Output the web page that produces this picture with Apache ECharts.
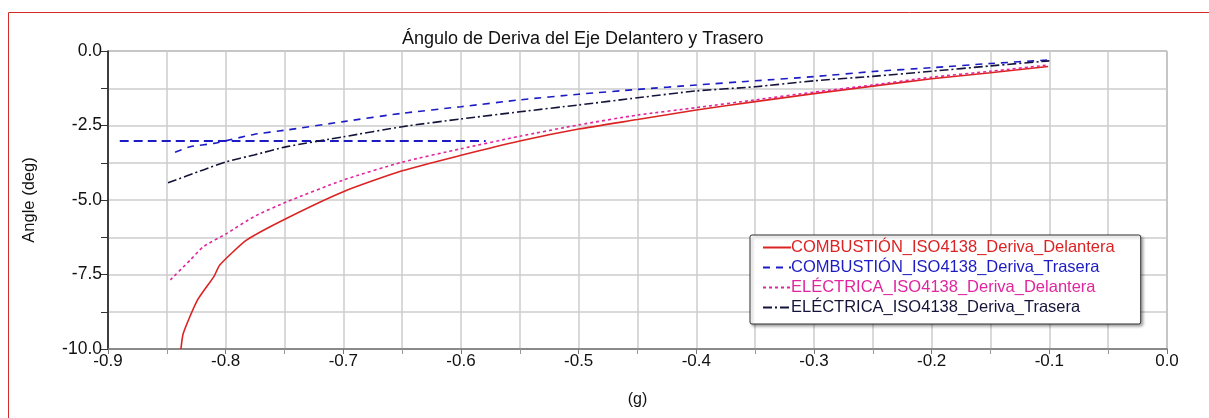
<!DOCTYPE html>
<html>
<head>
<meta charset="utf-8">
<script src="https://cdn.jsdelivr.net/npm/echarts@6/dist/echarts.min.js"></script>
<style>
  html, body { margin: 0; padding: 0; background: #fff; }
  #main { width: 1209px; height: 418px; }
</style>
</head>
<body>
<div id="main"></div>
<script>
// values: x in g, y in degrees
const xTicks = ['-0.9', '-0.8', '-0.7', '-0.6', '-0.5', '-0.4', '-0.3', '-0.2', '-0.1', '0.0'];
const yTicks = ['-10.0', '-7.5', '-5.0', '-2.5', '0.0'];

const combDelX = [-0.838, -0.836, -0.824, -0.810, -0.805, -0.782, -0.748, -0.700, -0.650, -0.600, -0.550, -0.500, -0.450, -0.400, -0.350, -0.300, -0.250, -0.200, -0.150, -0.101];
const combDelY = [-10.0, -9.47, -8.36, -7.57, -7.18, -6.34, -5.61, -4.72, -4.02, -3.50, -3.02, -2.62, -2.30, -1.98, -1.70, -1.43, -1.18, -0.93, -0.73, -0.52];

const combTraX = [-0.843, -0.830, -0.810, -0.776, -0.748, -0.700, -0.650, -0.600, -0.550, -0.500, -0.450, -0.400, -0.350, -0.300, -0.250, -0.200, -0.150, -0.100];
const combTraY = [-3.40, -3.21, -3.10, -2.80, -2.65, -2.37, -2.09, -1.87, -1.64, -1.45, -1.29, -1.14, -1.00, -0.86, -0.69, -0.56, -0.42, -0.30];
// flat stretch of the same run
const combTraFlatX = [-0.890, -0.800, -0.700, -0.579];
const combTraFlatY = [-3.02, -3.02, -3.02, -3.02];

const elecDelX = [-0.847, -0.830, -0.819, -0.799, -0.776, -0.748, -0.700, -0.650, -0.600, -0.550, -0.500, -0.450, -0.400, -0.350, -0.300, -0.250, -0.200, -0.150, -0.101];
const elecDelY = [-7.68, -7.01, -6.57, -6.12, -5.56, -5.06, -4.33, -3.73, -3.28, -2.86, -2.48, -2.15, -1.90, -1.64, -1.38, -1.14, -0.88, -0.68, -0.47];

const elecTraX = [-0.849, -0.819, -0.799, -0.776, -0.748, -0.700, -0.650, -0.600, -0.550, -0.500, -0.450, -0.400, -0.350, -0.300, -0.250, -0.200, -0.150, -0.100];
const elecTraY = [-4.42, -3.99, -3.71, -3.49, -3.21, -2.88, -2.54, -2.28, -2.04, -1.81, -1.57, -1.34, -1.20, -1.00, -0.85, -0.68, -0.50, -0.33];

const names = [
  'COMBUSTIÓN_ISO4138_Deriva_Delantera',
  'COMBUSTIÓN_ISO4138_Deriva_Trasera',
  'ELÉCTRICA_ISO4138_Deriva_Delantera',
  'ELÉCTRICA_ISO4138_Deriva_Trasera'
];
const colors = ['#dc2323', '#1c1cc4', '#e0259e', '#14143a'];

function pairs(xs, ys) {
  return xs.map((x, i) => [x, ys[i]]);
}

const font = 'Liberation Sans, Arial, sans-serif';

function lineSeries(name, data, color, type, width) {
  return {
    name: name,
    type: 'line',
    data: data,
    symbol: 'none',
    smooth: 0.2,
    clip: true,
    color: color,
    lineStyle: { color: color, width: width, type: type },
    emphasis: { disabled: true }
  };
}

var myChart = echarts.init(document.getElementById('main'));
myChart.setOption({
  animation: false,
  backgroundColor: '#ffffff',
  title: {
    text: 'Ángulo de Deriva del Eje Delantero y Trasero',
    left: 397,
    top: 25,
    textStyle: { fontFamily: font, fontSize: 18, fontWeight: 'normal', color: '#111' }
  },
  graphic: [{
    type: 'rect',
    shape: { x: 8.5, y: 12.5, width: 1300, height: 600 },
    style: { fill: 'none', stroke: '#d32a2a', lineWidth: 1 },
    silent: true
  }],
  legend: {
    orient: 'vertical',
    left: 750,
    top: 235,
    padding: [4, 26, 8, 12],
    itemGap: 3,
    itemWidth: 28,
    itemHeight: 17,
    backgroundColor: '#ffffff',
    borderColor: '#333',
    borderWidth: 1,
    borderRadius: 2,
    shadowColor: 'rgba(0,0,0,0.35)',
    shadowBlur: 3,
    shadowOffsetX: 2,
    shadowOffsetY: 2,
    selectedMode: false,
    itemStyle: { opacity: 0 },
    textStyle: { fontFamily: font, fontSize: 16.5, padding: [0, 0, 0, -5] },
    data: names.map((n, i) => ({ name: n, textStyle: { color: colors[i] } }))
  },
  grid: {
    left: 108,
    right: 42,
    top: 51,
    bottom: 69,
    show: true,
    borderColor: '#666',
    borderWidth: 1
  },
  xAxis: {
    type: 'value',
    min: -0.9,
    max: 0,
    interval: 0.1,
    name: '(g)',
    nameLocation: 'middle',
    nameGap: 43,
    nameTextStyle: { fontFamily: font, fontSize: 16, color: '#111' },
    axisLine: { onZero: false, lineStyle: { color: '#777', width: 1.5 } },
    axisTick: { show: true, length: 5, lineStyle: { color: '#777' } },
    minorTick: { show: true, splitNumber: 2, length: 5, lineStyle: { color: '#999' } },
    splitLine: { show: true, lineStyle: { color: '#cdcdcd', width: 1.5 } },
    minorSplitLine: { show: true, lineStyle: { color: '#cdcdcd', width: 1.5 } },
    axisLabel: {
      fontFamily: font, fontSize: 17, color: '#111', margin: 4,
      formatter: v => xTicks.find(t => Math.abs(parseFloat(t) - v) < 1e-6) || ''
    }
  },
  yAxis: {
    type: 'value',
    min: -10,
    max: 0,
    interval: 2.5,
    name: 'Angle (deg)',
    nameLocation: 'middle',
    nameGap: 70,
    nameTextStyle: { fontFamily: font, fontSize: 16.5, color: '#111' },
    axisLine: { show: true, onZero: false, lineStyle: { color: '#111', width: 1.5 } },
    axisTick: { show: true, length: 7, lineStyle: { color: '#333' } },
    minorTick: { show: true, splitNumber: 2, length: 7, lineStyle: { color: '#333' } },
    splitLine: { show: true, lineStyle: { color: '#cdcdcd', width: 1.5 } },
    minorSplitLine: { show: true, lineStyle: { color: '#cdcdcd', width: 1.5 } },
    axisLabel: {
      fontFamily: font, fontSize: 17.5, color: '#111', margin: 6,
      formatter: v => yTicks.find(t => Math.abs(parseFloat(t) - v) < 1e-6) || ''
    }
  },
  series: [
    lineSeries(names[0], pairs(combDelX, combDelY), colors[0], 'solid', 1.6),
    lineSeries(names[1], pairs(combTraX, combTraY), colors[1], [7, 6], 1.6),
    lineSeries(names[1], pairs(combTraFlatX, combTraFlatY), colors[1], [9, 5], 2),
    lineSeries(names[2], pairs(elecDelX, elecDelY), colors[2], [3, 3], 1.6),
    lineSeries(names[3], pairs(elecTraX, elecTraY), colors[3], [9, 3, 2, 3], 1.6)
  ]
});
</script>
</body>
</html>
